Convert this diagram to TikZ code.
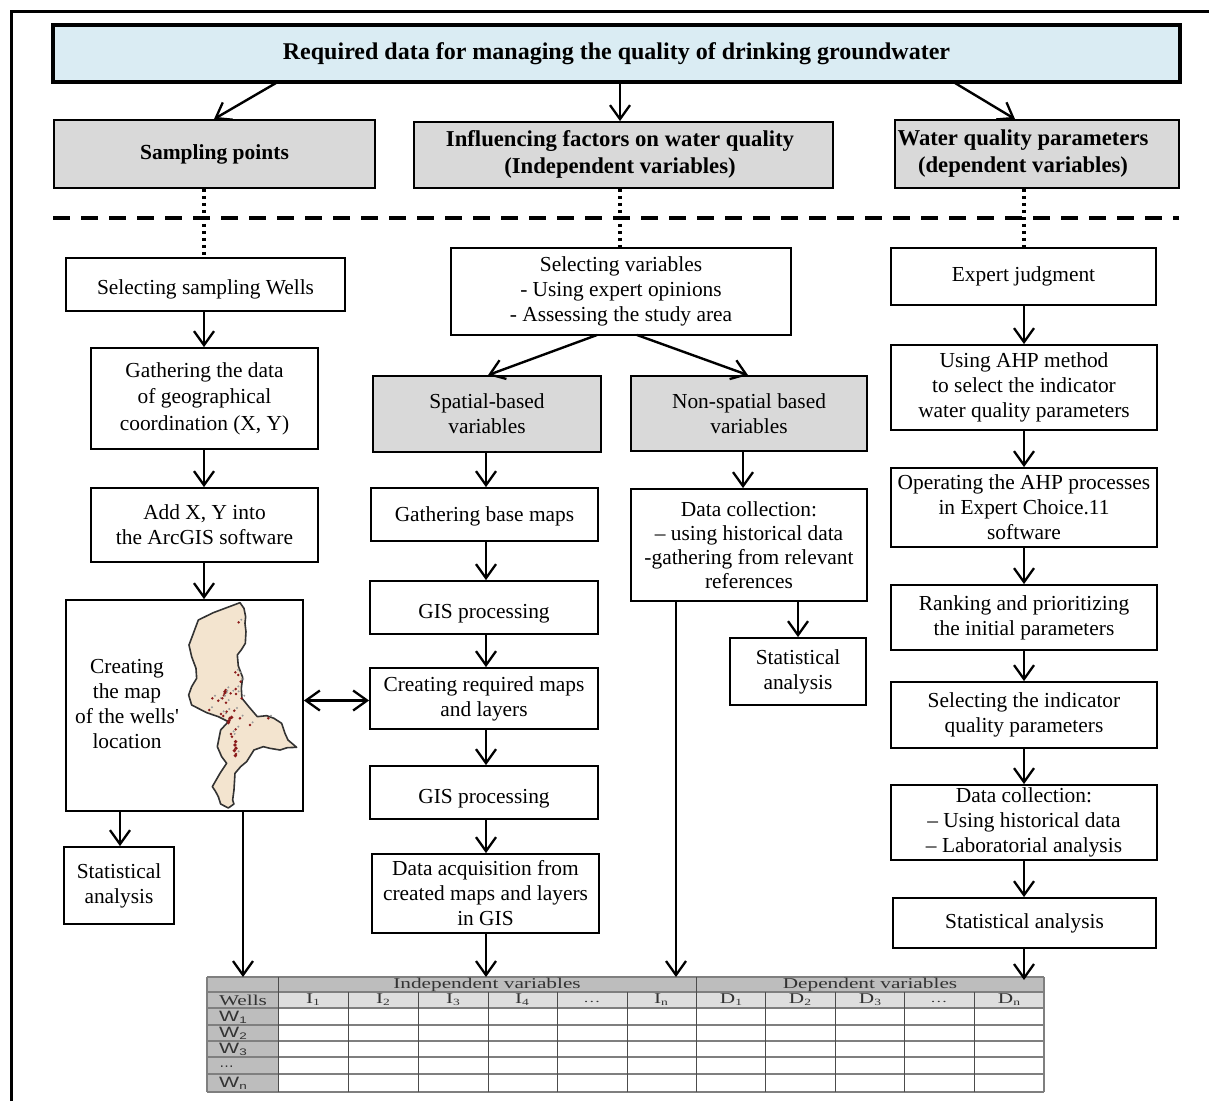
\documentclass[tikz,border=0pt]{standalone}
\usepackage{fontspec}
\setmainfont{Liberation Serif}
\newfontfamily\wfont{Liberation Sans}
\usetikzlibrary{arrows.meta}
\definecolor{titlefill}{HTML}{DAECF3}
\definecolor{headfill}{HTML}{D9D9D9}
\definecolor{tdark}{HTML}{BDBDBD}
\definecolor{tlight}{HTML}{DEDEDE}
\definecolor{tline}{HTML}{7F7F7F}
\definecolor{ttext}{HTML}{333333}
\definecolor{mapfill}{HTML}{F3E4CF}
\definecolor{wellred}{HTML}{8B1A1A}
\tikzset{
  txt/.style={font=\fontsize{21.4}{25}\selectfont,align=center,inner sep=0pt,text=black},
  plain/.style={txt,draw=black,line width=1.8pt,fill=white},
  grey/.style={plain,fill=headfill},
  bgrey/.style={grey,font=\fontsize{21.5}{27}\selectfont\bfseries},
  blabel/.style={txt,font=\fontsize{22.7}{27}\selectfont\bfseries},
  titlebox/.style={txt,draw=black,line width=3.5pt,fill=titlefill,font=\fontsize{24}{27}\selectfont\bfseries},
  arr/.style={line width=2.4pt,-{Straight Barb[length=14pt,width=20pt,line width=2.3pt]}},
  darr/.style={line width=2.4pt,{Straight Barb[length=14pt,width=20pt,line width=2.3pt]}-{Straight Barb[length=14pt,width=20pt,line width=2.3pt]}},
  dotline/.style={line width=3.5pt,dash pattern=on 3.5pt off 3.5pt},
  dashline/.style={line width=3.5pt,dash pattern=on 17pt off 11pt},
  thead/.style={font=\fontsize{15}{16}\selectfont,text=ttext,inner sep=0pt},
  tdots/.style={font=\fontsize{12}{12}\selectfont,text=ttext,inner sep=0pt},
  tw/.style={font=\wfont\fontsize{15}{16}\selectfont,text=ttext,inner sep=0pt},
}
\newcommand{\bx}[7][]{%
  \pgfmathsetmacro{\bxw}{#5-#3}\pgfmathsetmacro{\bxh}{#6-#4}%
  \pgfmathsetmacro{\bxx}{(#5+#3)/2}\pgfmathsetmacro{\bxy}{(#6+#4)/2}%
  \node[#2,minimum width=\bxw pt,minimum height=\bxh pt,#1] (#7) at (\bxx,\bxy)}
\newcommand{\tsub}[1]{\raisebox{-2pt}{\fontsize{9.5}{9.5}\selectfont #1}}
\newcommand{\wide}[1]{\scalebox{1.42}[1]{#1}}
\newcommand{\dn}[2]{\raisebox{-#1pt}[\height][\depth]{#2}}
\begin{document}
\begin{tikzpicture}[x=1pt,y=-1pt]
\useasboundingbox (0,0) rectangle (1209,1101);
\fill[white] (0,0) rectangle (1209,1101);
% outer frame
\draw[line width=3pt] (11,1101) -- (11,11) -- (1209,11);
% top level
\bx{titlebox}{53}{25}{1180}{82}{title} {Required data for managing the quality of drinking groundwater};
\bx{bgrey}{54}{120}{375}{188}{samp} {Sampling points};
\bx{bgrey}{414}{122}{833}{188}{infl} {};
\node[blabel] (infllab) at (620,154) {Influencing factors on water quality\\(Independent variables)};
\bx{bgrey}{895}{120}{1179}{188}{wqp} {};
\node[blabel] (wqplab) at (1023,154) {Water quality parameters\\(dependent variables)};
% column guides
\coordinate (c1) at (204,0); \coordinate (c2) at (486,0); \coordinate (c3) at (620,0);
\coordinate (c4) at (1024,0); \coordinate (c5) at (743,0); \coordinate (c6) at (798,0);
\coordinate (c7) at (120,0); \coordinate (c8) at (243,0); \coordinate (c9) at (676,0);
\coordinate (dl) at (53,218); \coordinate (dr) at (1179,218);
% left column
\bx{plain}{66}{258}{345}{311}{wellsel} {\dn{5}{Selecting sampling Wells}};
\bx[font=\fontsize{21.4}{26.5}\selectfont]{plain}{91}{348}{318}{449}{coord} {Gathering the data\\of geographical\\coordination (X, Y)};
\bx{plain}{91}{488}{318}{562}{addxy} {Add X, Y into\\the ArcGIS software};
\bx{plain}{66}{600}{303}{811}{mapbox} {};
\bx{plain}{64}{847}{174}{924}{statl} {Statistical\\analysis};
% map
\draw[line width=1.6pt,draw=black!80,fill=mapfill,line join=round,xshift=50pt,yshift=-590pt,x=0.3333pt,y=-0.3333pt]
 (570,38) -- (582,55) -- (587,80) -- (585,100) -- (588,125) -- (586,160) -- (575,178) -- (562,195) -- (565,228) -- (578,262) -- (574,295) -- (576,325) -- (598,352) -- (622,380) -- (650,377) -- (672,385) -- (695,400) -- (705,430) -- (714,450) -- (740,472) -- (712,473) -- (690,480) -- (660,475) -- (640,470) -- (612,480) -- (590,515) -- (572,530) -- (555,550) -- (552,600) -- (548,630) -- (552,642) -- (535,654) -- (512,642) -- (505,620) -- (497,605) -- (487,590) -- (510,550) -- (530,520) -- (515,500) -- (502,470) -- (512,420) -- (535,395) -- (505,380) -- (470,368) -- (425,345) -- (416,315) -- (425,290) -- (440,265) -- (438,235) -- (425,200) -- (417,165) -- (432,125) -- (445,90) -- (490,68) -- cycle;
\begin{scope}[xshift=50pt,yshift=-590pt,x=0.3333pt,y=-0.3333pt]
\foreach \p/\q in {566/97,556/247,565/255,572/275,527/300,524/310,522/316,557/297,558/312,542/310,575/325,487/325,505/332,517/325,528/338,478/360,513/372,520/378,553/362,530/365,570/385,600/405,655/385,557/418,543/432,546/440,558/492}{
  \fill[black!40] (\p+8,\q-8) circle (1.1pt);
  \fill[wellred] (\p,\q) circle (1.4pt);
}
\foreach \p/\q in {540/385,537/392,545/382,535/398,557/455,555/465,558/475,553/482,556/497,525/305}{
  \fill[wellred] (\p,\q) circle (1.9pt);
}
\end{scope}
\node[txt] (maplabel) at (127,704) {Creating\\the map\\of the wells\textquotesingle\\location};
% middle column
\bx{plain}{451}{248}{791}{335}{varsel} {Selecting variables\\- Using expert opinions\\- Assessing the study area};
\bx{grey}{373}{376}{601}{452}{spatial} {Spatial-based\\variables};
\bx{grey}{631}{376}{867}{451}{nonsp} {Non-spatial based\\variables};
\bx{plain}{371}{488}{598}{541}{basem} {\dn{2}{Gathering base maps}};
\bx{plain}{370}{581}{598}{634}{gisa} {\dn{6}{GIS processing}};
\bx{plain}{370}{668}{598}{729}{layers} {Creating required maps\\and layers};
\bx{plain}{370}{766}{598}{819}{gisb} {\dn{6}{GIS processing}};
\bx{plain}{372}{854}{599}{933}{acq} {Data acquisition from\\created maps and layers\\in GIS};
\bx[font=\fontsize{21.4}{24}\selectfont]{plain}{631}{489}{867}{601}{coll} {Data collection:\\– using historical data\\-gathering from relevant\\references};
\bx{plain}{730}{638}{866}{705}{statm} {Statistical\\analysis};
% right column
\bx{plain}{891}{248}{1156}{305}{expert} {Expert judgment};
\bx{plain}{891}{345}{1157}{430}{ahp} {Using AHP method\\to select the indicator\\water quality parameters};
\bx{plain}{891}{468}{1157}{547}{oper} {Operating the AHP processes\\in Expert Choice.11\\software};
\bx{plain}{891}{585}{1157}{650}{rank} {Ranking and prioritizing\\the initial parameters};
\bx{plain}{891}{682}{1157}{748}{indic} {Selecting the indicator\\quality parameters};
\bx{plain}{891}{785}{1157}{860}{collr} {Data collection:\\– Using historical data\\– Laboratorial analysis};
\bx{plain}{893}{898}{1156}{948}{statr} {Statistical analysis};
% table
\fill[tdark] (207,977) rectangle (1044,992);
\fill[tdark] (207,977) rectangle (278,1092);
\fill[tlight] (278,992) rectangle (1044,1008);
\fill[white] (278,1008) rectangle (1044,1092);
\foreach \y/\w in {977/1.4,992/1.6,1008/2,1025/1.8,1041/1.8,1057/1.8,1074/1.8,1092/2}{
  \draw[tline,line width=\w pt] (207,\y) -- (1044,\y);
}
\draw[tline,line width=2pt] (207,977) -- (207,1092);
\draw[tline,line width=1.6pt] (1044,977) -- (1044,1092);
\draw[black!70,line width=1pt] (278,977) -- (278,1092);
\draw[black!70,line width=1pt] (696,977) -- (696,1092);
\foreach \x in {348,418,488,557,627,765,835,904,974}{
  \draw[black!70,line width=1pt] (\x,992) -- (\x,1092);
}
\node[thead] (tindep) at (487,985) {\wide{Independent variables}};
\node[thead] (tdep) at (870,985) {\wide{Dependent variables}};
\node[thead] (twells) at (243,1000) {\wide{Wells}};
\node[thead] (ti1) at (313,1000) {\wide{I\tsub{1}}};
\node[thead] (ti2) at (383,1000) {\wide{I\tsub{2}}};
\node[thead] (ti3) at (453,1000) {\wide{I\tsub{3}}};
\node[thead] (ti4) at (522,1000) {\wide{I\tsub{4}}};
\node[tdots] (ti5) at (592,1002) {\wide{…}};
\node[thead] (tin) at (661,1000) {\wide{I\tsub{n}}};
\node[thead] (td1) at (731,1000) {\wide{D\tsub{1}}};
\node[thead] (td2) at (800,1000) {\wide{D\tsub{2}}};
\node[thead] (td3) at (870,1000) {\wide{D\tsub{3}}};
\node[tdots] (td4) at (939,1002) {\wide{…}};
\node[thead] (tdn) at (1009,1000) {\wide{D\tsub{n}}};
\node[tw,anchor=west] (tw1) at (219,1017) {\wide{W\tsub{1}}};
\node[tw,anchor=west] (tw2) at (219,1033) {\wide{W\tsub{2}}};
\node[tw,anchor=west] (tw3) at (219,1049) {\wide{W\tsub{3}}};
\node[tw,anchor=west] (tw4) at (219,1067) {…};
\node[tw,anchor=west] (twn) at (219,1083) {\wide{W\tsub{n}}};
\coordinate (t1) at (243,977); \coordinate (t2) at (486,977); \coordinate (t3) at (676,977); \coordinate (t4) at (1024,980);
% connectors
\draw[arr] (276,83) -- (samp.north -| 214,0);
\draw[arr] (title.south -| c3) -- (infl.north -| c3);
\draw[arr] (955,83) -- (wqp.north -| 1015,0);
\draw[dotline] (samp.south -| c1) -- (wellsel.north -| c1);
\draw[dotline] (infl.south -| c3) -- (varsel.north -| c3);
\draw[dotline] (wqp.south -| c4) -- (expert.north -| c4);
\draw[dashline] (dl) -- (dr);
\draw[arr] (wellsel.south -| c1) -- (coord.north -| c1);
\draw[arr] (coord.south -| c1) -- (addxy.north -| c1);
\draw[arr] (addxy.south -| c1) -- (mapbox.north -| c1);
\draw[arr] (mapbox.south -| c7) -- (statl.north -| c7);
\draw[arr] (mapbox.south -| c8) -- (t1);
\draw[arr] (597,335) -- (spatial.north -| 488,0);
\draw[arr] (637,335) -- (nonsp.north -| 748,0);
\draw[arr] (spatial.south -| c2) -- (basem.north -| c2);
\draw[arr] (basem.south -| c2) -- (gisa.north -| c2);
\draw[arr] (gisa.south -| c2) -- (layers.north -| c2);
\draw[arr] (layers.south -| c2) -- (gisb.north -| c2);
\draw[arr] (gisb.south -| c2) -- (acq.north -| c2);
\draw[arr] (acq.south -| c2) -- (t2);
\draw[arr] (nonsp.south -| c5) -- (coll.north -| c5);
\draw[arr] (coll.south -| c6) -- (statm.north -| c6);
\draw[arr] (coll.south -| c9) -- (t3);
\draw[arr] (expert.south -| c4) -- (ahp.north -| c4);
\draw[arr] (ahp.south -| c4) -- (oper.north -| c4);
\draw[arr] (oper.south -| c4) -- (rank.north -| c4);
\draw[arr] (rank.south -| c4) -- (indic.north -| c4);
\draw[arr] (indic.south -| c4) -- (collr.north -| c4);
\draw[arr] (collr.south -| c4) -- (statr.north -| c4);
\draw[arr] (statr.south -| c4) -- (t4);
\draw[darr] (mapbox.east |- layers.west) ++(0,2) coordinate (da) (layers.west) ++(0,2) coordinate (db) (da) -- (db);
\end{tikzpicture}
\end{document}
